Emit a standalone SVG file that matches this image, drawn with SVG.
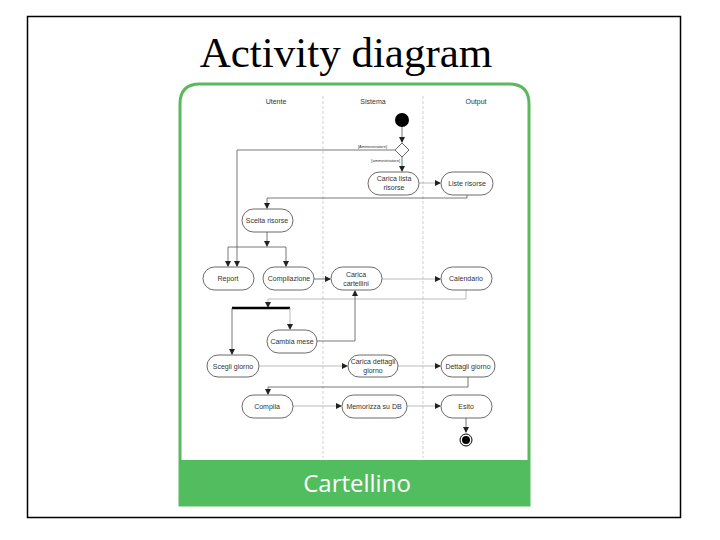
<svg xmlns="http://www.w3.org/2000/svg" width="720" height="540" viewBox="0 0 720 540">
<defs>
<marker id="ar" markerWidth="6" markerHeight="6" refX="5" refY="3" orient="auto" markerUnits="userSpaceOnUse"><path d="M0,0L6,3L0,6z" fill="#222"/></marker>
</defs>
<style>
.n{fill:#fff;stroke:#444;stroke-width:0.8}
.t{font-family:"Liberation Sans",Arial,sans-serif;font-size:7px;fill:#333;text-anchor:middle}
.s{font-family:"Liberation Sans",Arial,sans-serif;font-size:4px;fill:#333;text-anchor:end}
.c{fill:none;stroke:#555;stroke-width:0.8}
.cl{fill:none;stroke:#aaa;stroke-width:0.8}
</style>
<rect x="0" y="0" width="720" height="540" fill="#fff"/>
<rect x="27.5" y="16.5" width="653" height="501" fill="none" stroke="#000" stroke-width="1.5"/>
<text x="346" y="67" font-family="Liberation Serif,serif" font-size="43" text-anchor="middle">Activity diagram</text>
<path d="M180,505 V104 Q180,84 200,84 H509 Q529,84 529,104 V505 Z" fill="#fff" stroke="#5cb85c" stroke-width="3"/>
<rect x="179" y="460" width="351" height="46" fill="#52bd5e"/>
<text x="357" y="492" font-family="Open Sans,sans-serif" font-size="24" fill="#fff" text-anchor="middle">Cartellino</text>
<g stroke="#bbb" stroke-width="0.7" stroke-dasharray="3,2"><line x1="323" y1="96" x2="323" y2="458"/><line x1="423" y1="96" x2="423" y2="458"/></g>
<text class="t" x="276" y="104">Utente</text><text class="t" x="373" y="104">Sistema</text><text class="t" x="476" y="104">Output</text>
<g id="connectors">
<path class="c" d="M402,127V142" marker-end="url(#ar)"/>
<path class="c" d="M395,150H237V266" marker-end="url(#ar)"/>
<path class="c" d="M402,157V171" marker-end="url(#ar)"/>
<path class="cl" d="M419,183H440" marker-end="url(#ar)"/>
<path class="c" d="M467,195V198H267V208" marker-end="url(#ar)"/>
<path class="c" d="M267,232V246" marker-end="url(#ar)"/>
<path class="c" d="M228,247H286"/>
<path class="c" d="M228,247V266" marker-end="url(#ar)"/>
<path class="c" d="M286,247V266" marker-end="url(#ar)"/>
<path class="c" d="M314,279H330" marker-end="url(#ar)"/>
<path class="cl" d="M382,279H440" marker-end="url(#ar)"/>
<path class="cl" d="M466,290V299H268V307" marker-end="url(#ar)"/>
<path d="M232,308H290" stroke="#000" stroke-width="2.5"/>
<path class="c" d="M232,308V354" marker-end="url(#ar)"/>
<path class="cl" d="M290,308V329" marker-end="url(#ar)"/>
<path class="c" d="M317,341H355V291" marker-end="url(#ar)"/>
<path class="cl" d="M259,366H347" marker-end="url(#ar)"/>
<path class="cl" d="M398,366H440" marker-end="url(#ar)"/>
<path class="c" d="M468,377V387H268V394" marker-end="url(#ar)"/>
<path class="cl" d="M293,406H341" marker-end="url(#ar)"/>
<path class="cl" d="M407,406H440" marker-end="url(#ar)"/>
<path class="c" d="M466,418V432" marker-end="url(#ar)"/>
</g>
<g id="start"><circle cx="402" cy="120" r="7" fill="#000"/></g>
<g id="decision"><path class="n" d="M402,143L409,150L402,157L395,150Z"/>
<text class="s" x="387" y="148">[Amministratore]</text>
<text class="s" x="400" y="162">[amministratore]</text></g>
<g id="carica-lista"><rect class="n" x="368" y="172" width="51" height="23" rx="11.5"/><text class="t" x="394" y="181">Carica lista</text><text class="t" x="394" y="190">risorse</text></g>
<g id="liste-risorse"><rect class="n" x="441" y="172" width="52" height="23" rx="11.5"/><text class="t" x="467" y="186">Liste risorse</text></g>
<g id="scelta"><rect class="n" x="242" y="209" width="51" height="23" rx="11.5"/><text class="t" x="267" y="223">Scelta risorse</text></g>
<g id="report"><rect class="n" x="203" y="267" width="51" height="23" rx="11.5"/><text class="t" x="228" y="281">Report</text></g>
<g id="compilazione"><rect class="n" x="263" y="267" width="51" height="23" rx="11.5"/><text class="t" x="289" y="281">Compilazione</text></g>
<g id="carica-cartellini"><rect class="n" x="331" y="267" width="51" height="23" rx="11.5"/><text class="t" x="356" y="277">Carica</text><text class="t" x="356" y="286">cartellini</text></g>
<g id="calendario"><rect class="n" x="441" y="267" width="51" height="23" rx="11.5"/><text class="t" x="466" y="281">Calendario</text></g>
<g id="cambia-mese"><rect class="n" x="267" y="330" width="50" height="23" rx="11.5"/><text class="t" x="292" y="344">Cambia mese</text></g>
<g id="scegli-giorno"><rect class="n" x="207" y="355" width="52" height="22" rx="11"/><text class="t" x="233" y="369">Scegli giorno</text></g>
<g id="carica-dettagli"><rect class="n" x="348" y="355" width="50" height="22" rx="11"/><text class="t" x="373" y="364">Carica dettagli</text><text class="t" x="373" y="373">giorno</text></g>
<g id="dettagli-giorno"><rect class="n" x="441" y="355" width="54" height="22" rx="11"/><text class="t" x="468" y="369">Dettagli giorno</text></g>
<g id="compila"><rect class="n" x="242" y="395" width="51" height="23" rx="11.5"/><text class="t" x="267" y="409">Compila</text></g>
<g id="memorizza"><rect class="n" x="342" y="395" width="65" height="23" rx="11.5"/><text class="t" x="374" y="409">Memorizza su DB</text></g>
<g id="esito"><rect class="n" x="441" y="395" width="51" height="23" rx="11.5"/><text class="t" x="466" y="409">Esito</text></g>
<g id="end"><circle cx="466" cy="440" r="6" fill="#fff" stroke="#000" stroke-width="1"/><circle cx="466" cy="440" r="4" fill="#000"/></g>
</svg>
